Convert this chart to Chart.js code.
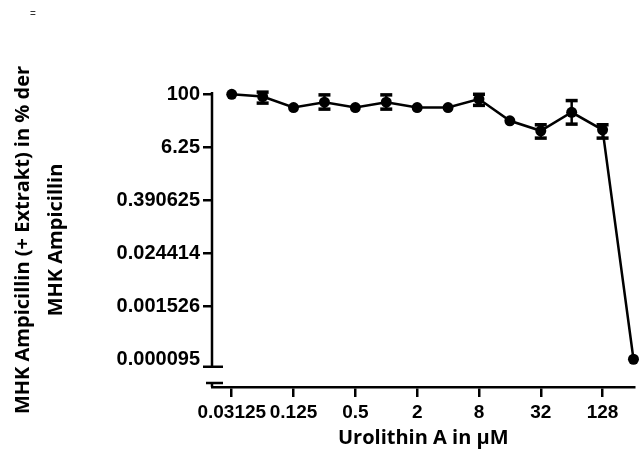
<!DOCTYPE html>
<html><head><meta charset="utf-8">
<script src="https://cdn.jsdelivr.net/npm/chart.js@4/dist/chart.umd.min.js"></script>
<style>html,body{margin:0;padding:0;background:#fff;}</style>
</head><body>
<canvas id="c" width="640" height="457"></canvas>
<script>
const concentrations = [0.03125, 0.0625, 0.125, 0.25, 0.5, 1, 2, 4, 8, 16, 32, 64, 128, 256];
const mhkPercent = [100, 89, 50, 66, 50, 66, 50, 50, 78, 25, 14.8, 39, 15.6, 0.0000954];
const errLow  = [100, 63, 50, 46, 50, 46, 50, 50, 56, 25, 10.1, 21, 10.1, 0.0000954];
const errHigh = [100, 112, 50, 97, 50, 97, 50, 50, 100, 25, 20.3, 72, 20.3, 0.0000954];
const xTickValues = [0.03125, 0.125, 0.5, 2, 8, 32, 128];
const xTickLabels = ['0.03125', '0.125', '0.5', '2', '8', '32', '128'];
const yTickValues = [100, 6.25, 0.390625, 0.0244140625, 0.00152587890625, 0.0000953674316];
const yTickLabels = ['100', '6.25', '0.390625', '0.024414', '0.001526', '0.000095'];
const xTitle = 'Urolithin A in µM';
const yTitle = ['MHK Ampicillin (+ Extrakt) in % der', 'MHK Ampicillin'];

const titleFontFamily = '"Open Sans"';

const decor = {
  id: 'decor',
  beforeDatasetsDraw(chart) {
    const {ctx, scales: {x, y}} = chart;
    ctx.save();
    ctx.strokeStyle = '#000';
    const seg = (a, b, c, d) => { ctx.beginPath(); ctx.moveTo(a, b); ctx.lineTo(c, d); ctx.stroke(); };
    concentrations.forEach((c, i) => {
      if (errLow[i] === errHigh[i]) return;
      const px = x.getPixelForValue(c);
      const y1 = y.getPixelForValue(errHigh[i]);
      const y2 = y.getPixelForValue(errLow[i]);
      ctx.lineWidth = 2.5; seg(px, y1, px, y2);
      ctx.lineWidth = 3.5; seg(px - 6, y1, px + 6, y1); seg(px - 6, y2, px + 6, y2);
    });
    ctx.restore();
  },
  afterDraw(chart) {
    const {ctx, chartArea: ca, scales: {y}} = chart;
    ctx.save();
    ctx.strokeStyle = '#000';
    ctx.lineWidth = 2.5;
    ctx.lineCap = 'butt';
    const seg = (a, b, c, d) => { ctx.beginPath(); ctx.moveTo(a, b); ctx.lineTo(c, d); ctx.stroke(); };
    const endY = y.getPixelForValue(yTickValues[yTickValues.length - 1]) + 7.5;
    seg(ca.left, ca.top - 1, ca.left, endY);
    seg(ca.left - 9, endY, ca.left + 11, endY);
    const brk = ca.bottom - 4;
    seg(ca.left - 6, brk, ca.left + 11, brk);
    seg(ca.left, brk, ca.left, ca.bottom);
    ctx.fillStyle = '#333';
    ctx.font = '10px "Liberation Sans"';
    ctx.fillText('=', 30, 17);
    ctx.restore();
  }
};

new Chart(document.getElementById('c'), {
  type: 'scatter',
  data: {
    datasets: [{
      data: concentrations.map((c, i) => ({x: c, y: mhkPercent[i]})),
      showLine: true,
      borderColor: '#000',
      backgroundColor: '#000',
      borderWidth: 2.5,
      pointRadius: 5.5,
      pointHoverRadius: 5.5,
      pointBorderWidth: 0,
      pointBackgroundColor: '#000',
      tension: 0,
      clip: false
    }]
  },
  options: {
    responsive: false,
    animation: false,
    layout: {padding: {top: 93, left: 0, right: 0, bottom: 0}},
    plugins: {legend: {display: false}, tooltip: {enabled: false}},
    scales: {
      x: {
        type: 'logarithmic',
        min: 0.02007, max: 261.9,
        afterBuildTicks: s => { s.ticks = xTickValues.map(v => ({value: v})); },
        afterFit: s => { s.height = 70; },
        border: {display: true, color: '#000', width: 2.5},
        grid: {drawOnChartArea: false, drawTicks: true, tickLength: 10, lineWidth: 2.5, color: '#000'},
        ticks: {color: '#000', font: {family: 'Liberation Sans', weight: 'bold', size: 19}, padding: 4,
                maxRotation: 0, autoSkip: false, callback: (v, i) => xTickLabels[i]},
        title: {display: true, text: xTitle, color: '#000',
                font: {family: titleFontFamily, weight: 'bold', size: 20},
                padding: {top: 0, bottom: 7}}
      },
      y: {
        type: 'logarithmic',
        min: 2.234e-5, max: 107,
        afterBuildTicks: s => { s.ticks = yTickValues.map(v => ({value: v})); },
        afterFit: s => { s.width = 212; },
        border: {display: false},
        grid: {drawOnChartArea: false, drawTicks: true, tickLength: 9, lineWidth: 2.5, color: '#000',
               tickColor: c => (c.index === yTickValues.length - 1 ? 'rgba(0,0,0,0)' : '#000')},
        ticks: {color: '#000', font: {family: 'Liberation Sans', weight: 'bold', size: 20}, padding: 3,
                autoSkip: false, callback: (v, i) => yTickLabels[i]},
        title: {display: true, text: yTitle, color: '#000',
                font: {family: titleFontFamily, weight: 'bold', size: 20, lineHeight: 33 / 20},
                padding: {top: 7, bottom: 0}}
      }
    }
  },
  plugins: [decor]
});
</script>
</body></html>
